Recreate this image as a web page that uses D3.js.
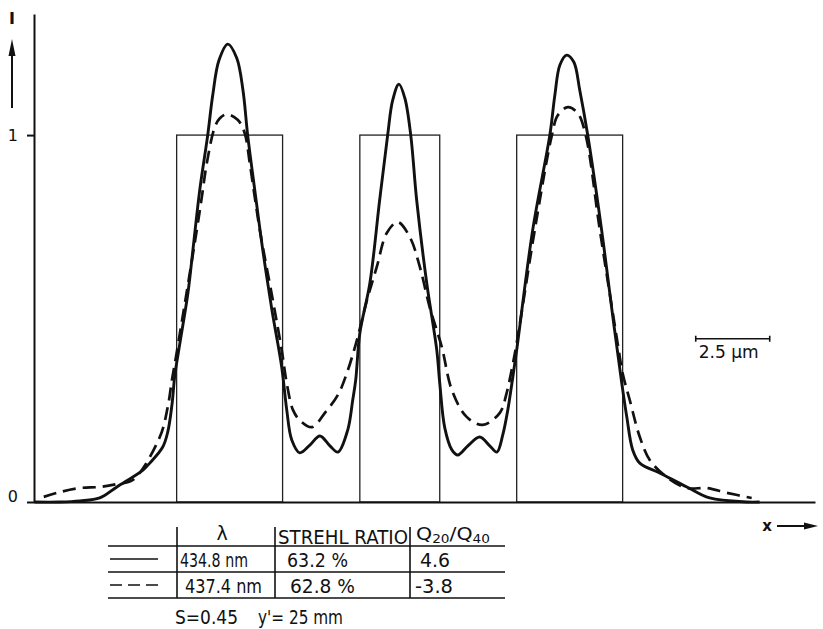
<!DOCTYPE html>
<html>
<head>
<meta charset="utf-8">
<script src="https://cdn.jsdelivr.net/npm/d3@7"></script>
<style>
  body { margin: 0; background: #fff; }
  svg { display: block; }
  text { font-family: "DejaVu Sans", sans-serif; fill: #111; }
</style>
</head>
<body>
<div id="chart"></div>
<script>
// intensity profiles, x in µm (centre of middle slit = 0), I relative to slit transmission
const solidCurve = [
    [-12.36, 0], [-11.49, 0], [-10.81, 0.003], [-10.14, 0.011], [-9.56, 0.041], [-8.68, 0.087],
    [-8.45, 0.106], [-8.01, 0.150], [-7.84, 0.191], [-7.70, 0.264], [-7.60, 0.346], [-7.43, 0.433],
    [-7.16, 0.569], [-6.99, 0.687], [-6.76, 0.850], [-6.49, 1.000], [-6.32, 1.109], [-6.11, 1.204],
    [-5.81, 1.248], [-5.51, 1.210], [-5.30, 1.123], [-5.14, 1.000], [-4.90, 0.850], [-4.63, 0.687],
    [-4.32, 0.523], [-3.99, 0.368], [-3.82, 0.251], [-3.65, 0.169], [-3.38, 0.134], [-3.04, 0.155],
    [-2.70, 0.180], [-2.36, 0.153], [-2.09, 0.136], [-1.76, 0.196], [-1.59, 0.278], [-1.49, 0.332],
    [-1.35, 0.460], [-1.01, 0.597], [-0.68, 0.823], [-0.41, 1.000], [-0.24, 1.095], [-0.03, 1.139],
    [0.17, 1.101], [0.37, 1.000], [0.57, 0.823], [0.91, 0.597], [1.25, 0.414], [1.35, 0.324],
    [1.52, 0.202], [1.76, 0.142], [1.96, 0.128], [2.30, 0.153], [2.70, 0.177], [3.04, 0.153],
    [3.28, 0.136], [3.48, 0.183], [3.65, 0.251], [3.78, 0.319], [3.95, 0.414], [4.49, 0.741],
    [5.07, 1.000], [5.24, 1.109], [5.41, 1.191], [5.64, 1.218], [5.88, 1.199], [6.08, 1.123],
    [6.35, 1.000], [6.82, 0.741], [7.20, 0.504], [7.50, 0.324], [7.67, 0.232], [7.87, 0.142],
    [8.11, 0.106], [8.78, 0.079], [9.70, 0.041], [10.47, 0.011], [11.72, 0], [12.16, 0]
];

const dashedCurve = [
    [-12.03, 0.014], [-11.49, 0.027], [-10.81, 0.038], [-10.14, 0.041], [-9.56, 0.049], [-9.02, 0.060],
    [-8.11, 0.177], [-7.84, 0.259], [-7.70, 0.332], [-7.57, 0.392], [-6.86, 0.741], [-6.69, 0.831],
    [-6.52, 0.924], [-6.25, 1.022], [-6.08, 1.046], [-5.84, 1.057], [-5.47, 1.041], [-5.24, 1.005],
    [-5.07, 0.924], [-4.90, 0.831], [-4.73, 0.741], [-4.29, 0.550], [-3.99, 0.414], [-3.82, 0.324],
    [-3.61, 0.251], [-3.38, 0.223], [-2.97, 0.204], [-2.53, 0.243], [-2.09, 0.292], [-1.79, 0.351],
    [-1.45, 0.441], [-1.11, 0.550], [-0.78, 0.640], [-0.44, 0.733], [-0.07, 0.763], [0.34, 0.722],
    [0.68, 0.640], [1.01, 0.531], [1.42, 0.422], [1.76, 0.305], [2.26, 0.232], [2.80, 0.210],
    [3.38, 0.243], [3.61, 0.297], [3.78, 0.360], [3.95, 0.433], [4.56, 0.741], [5.14, 1.000],
    [5.34, 1.054], [5.68, 1.076], [6.01, 1.060], [6.28, 1.000], [6.76, 0.741], [7.36, 0.433],
    [7.53, 0.351], [7.77, 0.278], [8.11, 0.177], [8.45, 0.114], [9.02, 0.068], [9.70, 0.038],
    [10.37, 0.038], [11.05, 0.025], [11.89, 0.011]
];

// slit edges in µm, transmission 1
const apertures = [[-7.54, -3.96], [-1.35, 1.35], [3.95, 7.53]];
const apertureHeight = 1;
const yTicks = [0, 1];

const scaleBarStart = 10, scaleBarLength = 2.5, scaleBarLevel = 0.445;
const scaleBarLabel = "2.5 μm";

const tableHeader = ["λ", "STREHL RATIO"];
const wavelengths = ["434.8 nm", "437.4 nm"];
const strehlRatios = ["63.2 %", "62.8 %"];
const q20q40 = ["4.6", "-3.8"];
const footnotes = ["S=0.45", "y'= 25 mm"];

const width = 823, height = 629;
const ink = '#111';

const x = d3.scaleLinear().domain([-12.36, 14.03]).range([34, 815]);
const y = d3.scaleLinear().domain([0, 1.33]).range([502, 14]);

const svg = d3.select('#chart').append('svg')
    .attr('width', width)
    .attr('height', height);

svg.append('rect').attr('width', width).attr('height', height).attr('fill', '#fff');

// slits
svg.selectAll('rect.slit')
    .data(apertures)
    .enter().append('rect')
    .attr('class', 'slit')
    .attr('x', d => x(d[0]))
    .attr('y', y(apertureHeight))
    .attr('width', d => x(d[1]) - x(d[0]))
    .attr('height', y(0) - y(apertureHeight))
    .attr('fill', 'none')
    .attr('stroke', '#222')
    .attr('stroke-width', 1.3);

// axes
const yAxis = svg.append('g')
    .attr('transform', `translate(${x.range()[0]},0)`)
    .call(d3.axisLeft(y).tickValues(yTicks).tickSize(7).tickSizeOuter(0).tickPadding(9).tickFormat(d3.format('d')));
yAxis.select('.domain').attr('stroke', ink).attr('stroke-width', 2);
yAxis.selectAll('.tick line').attr('stroke', ink).attr('stroke-width', 2);
yAxis.selectAll('.tick text')
    .attr('font-size', 16)
    .attr('font-family', 'DejaVu Sans')
    .attr('fill', ink)
    .attr('dy', d => d === 0 ? '-0.05em' : '0.32em');

const xAxis = svg.append('g')
    .attr('transform', `translate(0,${y(0)})`)
    .call(d3.axisBottom(x).tickValues([]).tickSizeOuter(0));
xAxis.select('.domain').attr('stroke', ink).attr('stroke-width', 2);

// curves
const line = d3.line()
    .x(d => x(d[0]))
    .y(d => y(d[1]))
    .curve(d3.curveCatmullRom.alpha(0.5));

svg.append('path')
    .datum(dashedCurve)
    .attr('d', line)
    .attr('fill', 'none')
    .attr('stroke', ink)
    .attr('stroke-width', 2.7)
    .attr('stroke-dasharray', '13,7');

svg.append('path')
    .datum(solidCurve)
    .attr('d', line)
    .attr('fill', 'none')
    .attr('stroke', ink)
    .attr('stroke-width', 2.9);

// axis names with arrows
svg.append('text')
    .attr('x', 12).attr('y', 24)
    .attr('text-anchor', 'middle')
    .attr('font-family', 'Liberation Serif')
    .attr('font-weight', 'bold')
    .attr('font-size', 16)
    .text('I');
svg.append('line')
    .attr('x1', 12).attr('y1', 108).attr('x2', 12).attr('y2', 50)
    .attr('stroke', ink).attr('stroke-width', 2);
svg.append('path')
    .attr('d', 'M12,39 L8.5,56 L15.5,56 Z')
    .attr('fill', ink);

svg.append('text')
    .attr('x', 767).attr('y', 531)
    .attr('text-anchor', 'middle')
    .attr('font-weight', 'bold')
    .attr('font-size', 15)
    .text('x');
svg.append('line')
    .attr('x1', 777).attr('y1', 526).attr('x2', 808).attr('y2', 526)
    .attr('stroke', ink).attr('stroke-width', 2);
svg.append('path')
    .attr('d', 'M818,526 L804,522.5 L804,529.5 Z')
    .attr('fill', ink);

// scale bar
const sb = svg.append('g').attr('stroke', ink).attr('stroke-width', 1.6);
sb.append('line')
    .attr('x1', x(scaleBarStart)).attr('x2', x(scaleBarStart + scaleBarLength))
    .attr('y1', y(scaleBarLevel)).attr('y2', y(scaleBarLevel));
[scaleBarStart, scaleBarStart + scaleBarLength].forEach(v => {
    sb.append('line')
        .attr('x1', x(v)).attr('x2', x(v))
        .attr('y1', y(scaleBarLevel) - 3).attr('y2', y(scaleBarLevel) + 3);
});
svg.append('text')
    .attr('x', x(scaleBarStart) + 3).attr('y', y(scaleBarLevel) + 19)
    .attr('font-size', 17)
    .attr('textLength', 60)
    .attr('lengthAdjust', 'spacingAndGlyphs')
    .text(scaleBarLabel);

// table under the plot
const table = svg.append('g');
const rule = (x1, y1, x2, y2, w) => table.append('line')
    .attr('x1', x1).attr('y1', y1).attr('x2', x2).attr('y2', y2)
    .attr('stroke', ink).attr('stroke-width', w || 1.6);

[546, 572, 598].forEach(ry => rule(108, ry, 505, ry));
[177, 275, 410].forEach(cx => rule(cx, 527, cx, 598));

// line samples
rule(110, 559, 158, 559, 1.6);
table.append('line')
    .attr('x1', 110).attr('y1', 585).attr('x2', 158).attr('y2', 585)
    .attr('stroke', ink).attr('stroke-width', 1.6)
    .attr('stroke-dasharray', '12,6');

// text squeezed to the widths seen in the figure (its lettering is condensed)
const cell = (tx, ty, str, len, anchor) => {
    const t = table.append('text')
        .attr('x', tx).attr('y', ty)
        .attr('font-size', 19)
        .attr('text-anchor', anchor || 'start')
        .text(str);
    if (len) t.attr('textLength', len).attr('lengthAdjust', 'spacingAndGlyphs');
    return t;
};

cell(222, 540, tableHeader[0], null, 'middle');
cell(278, 544, tableHeader[1], 130);

const q = table.append('text').attr('x', 416).attr('y', 540).attr('font-size', 18)
    .attr('textLength', 74).attr('lengthAdjust', 'spacingAndGlyphs');
q.append('tspan').text('Q');
q.append('tspan').attr('font-size', 12).attr('dy', 3).text('20');
q.append('tspan').attr('dy', -3).text('/Q');
q.append('tspan').attr('font-size', 12).attr('dy', 3).text('40');

const rowBase = [567, 593];
const rowLens = [[68, 61, 30], [77, 65, 38]];
wavelengths.forEach((w, i) => {
    cell(i === 0 ? 180 : 185, rowBase[i], w, rowLens[i][0]);
    cell(i === 0 ? 287 : 290, rowBase[i], strehlRatios[i], rowLens[i][1]);
    cell(i === 0 ? 420 : 415, rowBase[i], q20q40[i], rowLens[i][2]);
});

cell(175, 624, footnotes[0], 63);
cell(258, 624, footnotes[1], 85);
</script>
</body>
</html>
